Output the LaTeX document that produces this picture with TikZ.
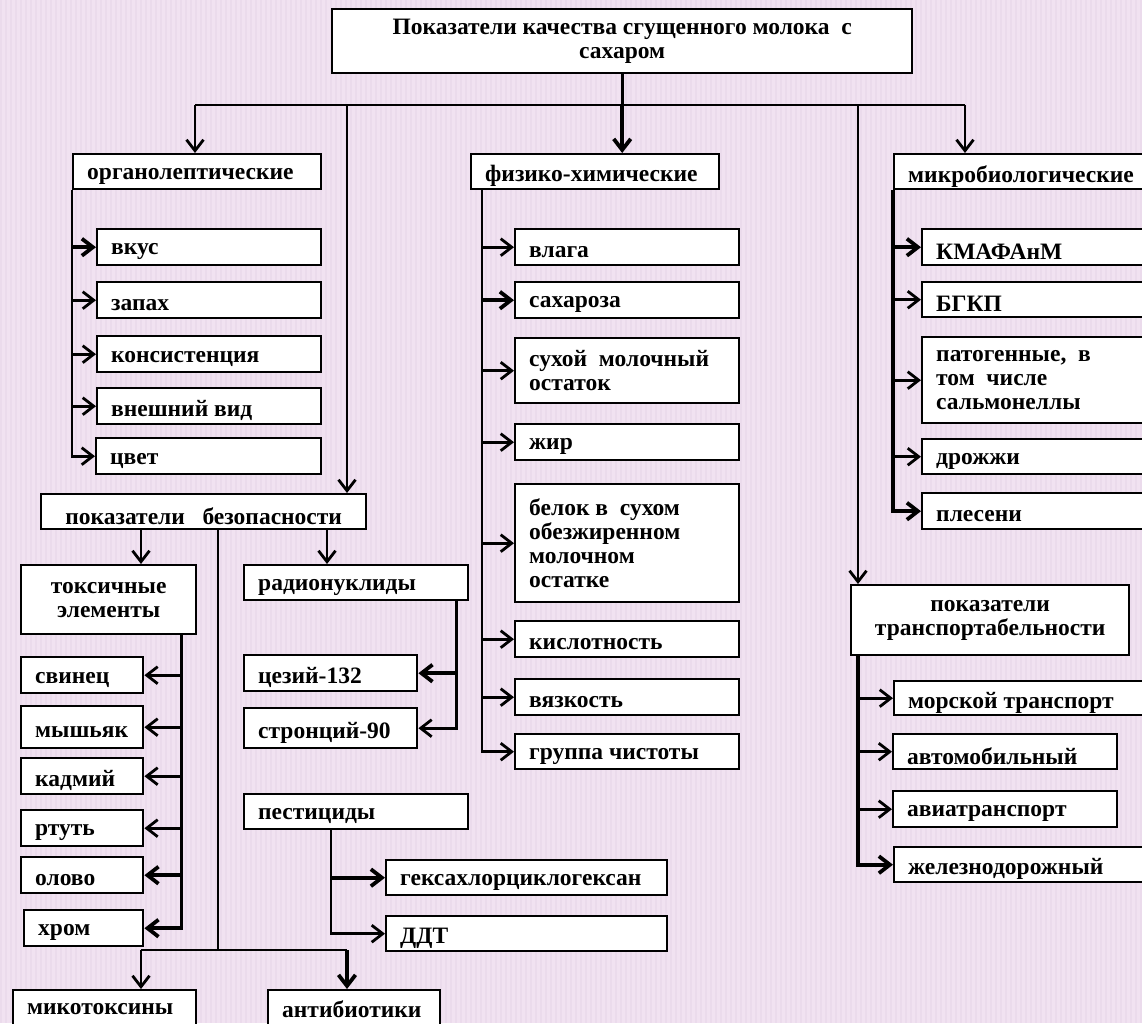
\documentclass[tikz,border=0pt]{standalone}
\usepackage{fontspec}
\setmainfont{Liberation Serif}
\usetikzlibrary{arrows.meta}
\definecolor{bgpink}{RGB}{241,226,241}
\definecolor{bgline}{RGB}{235,219,236}
\newcommand\cellfont{\fontsize{23.5}{24}\selectfont\bfseries}

\begin{document}
\begin{tikzpicture}[x=1pt,y=-1pt,
                    cellbox/.style 2 args={draw,line width=2.4pt,fill=white,anchor=north west,inner sep=0pt,
                        minimum width=#1pt,minimum height=#2pt,font=\cellfont},
                    cell/.style n args={3}{cellbox={#1}{#2},
                        node contents={\parbox[c]{\dimexpr#1pt-28pt\relax}{\vspace{9pt}\raggedright #3}}},
                    cellm/.style n args={3}{cellbox={#1}{#2},
                        node contents={\parbox[c]{\dimexpr#1pt-28pt\relax}{\raggedright #3}}},
                    cellc/.style n args={3}{cellbox={#1}{#2},
                        node contents={\parbox[c]{\dimexpr#1pt-28pt\relax}{\vspace{9pt}\centering #3}}},
                    cellcm/.style n args={3}{cellbox={#1}{#2},
                        node contents={\parbox[c]{\dimexpr#1pt-28pt\relax}{\centering #3}}},
                    link/.style={line width=2.8pt},
                    arr/.style={link,-{Straight Barb[length=11pt,width=17pt]}},
                    arrb/.style={arr,line width=3.8pt}]
                    \useasboundingbox (0,0) rectangle (1142,1023);
                    \fill[bgpink] (0,0) rectangle (1142,1023);
                    \foreach \x in {0,5,...,1140} \fill[bgline] (\x,0) rectangle ++(2,1023);
                    \clip (0,0) rectangle (1142,1023);

                    \node (title) at (331,8) [cellcm={580}{64}{Показатели качества сгущенного молока\ \ с\\сахаром}];

                    \node (org) at (72,153) [cell={248}{35}{органолептические}];
                    \node (vkus) at (96,228) [cell={224}{36}{вкус}];
                    \node (zapah) at (96,281) [cell={224}{36}{запах}];
                    \node (kons) at (96,335) [cell={224}{36}{консистенция}];
                    \node (vid) at (96,387) [cell={224}{36}{внешний вид}];
                    \node (cvet) at (95,437) [cell={225}{36}{цвет}];

                    \node (fiz) at (470,153) [cell={248}{35}{физико-химические}];
                    \node (vlaga) at (514,228) [cell={224}{36}{влага}];
                    \node (sahar) at (514,281) [cell={224}{36}{сахароза}];
                    \node (suhoi) at (514,337) [cellm={224}{65}{сухой\ \ молочный\\остаток}];
                    \node (zhir) at (514,423) [cell={224}{36}{жир}];
                    \node (belok) at (514,483) [cellm={224}{118}{белок в\ \ сухом\\обезжиренном\\молочном\\остатке}];
                    \node (kisl) at (514,620) [cell={224}{36}{кислотность}];
                    \node (vyaz) at (514,678) [cell={224}{36}{вязкость}];
                    \node (grup) at (514,733) [cell={224}{35}{группа чистоты}];

                    \node (micro) at (893,153) [cell={262}{35}{микробиологические}];
                    \node (kmaf) at (921,228) [cell={240}{36}{КМАФАнМ}];
                    \node (bgkp) at (921,281) [cell={240}{35}{БГКП}];
                    \node (patog) at (921,336) [cellm={240}{86}{патогенные,\ \ в\\том\ \ числе\\сальмонеллы}];
                    \node (drozh) at (921,438) [cell={240}{35}{дрожжи}];
                    \node (plesen) at (921,492) [cell={240}{36}{плесени}];

                    \node (bez) at (40,493) [cellc={325}{35}{показатели\ \ \ безопасности}];
                    \node (tox) at (20,564) [cellcm={175}{69}{токсичные\\элементы}];
                    \node (svinec) at (20,656) [cell={122}{36}{свинец}];
                    \node (mysh) at (20,705) [cell={122}{42}{мышьяк}];
                    \node (kadm) at (20,757) [cell={122}{36}{кадмий}];
                    \node (rtut) at (20,809) [cell={122}{36}{ртуть}];
                    \node (olovo) at (20,856) [cell={122}{36}{олово}];
                    \node (hrom) at (23,909) [cell={119}{36}{хром}];

                    \node (radio) at (243,564) [cell={224}{35}{радионуклиды}];
                    \node (cez) at (243,654) [cell={173}{36}{цезий-132}];
                    \node (stron) at (243,707) [cell={173}{40}{стронций-90}];
                    \node (pest) at (243,793) [cell={224}{35}{пестициды}];
                    \node (gexa) at (385,859) [cell={281}{35}{гексахлорциклогексан}];
                    \node (ddt) at (385,915) [cell={281}{35}{ДДТ}];
                    \node (miko) at (12,989) [cellm={183}{38}{микотоксины}];
                    \node (anti) at (267,989) [cellm={172}{38}{антибиотики}];

                    \node (transp) at (850,584) [cellcm={278}{70}{показатели\\транспортабельности}];
                    \node (mor) at (893,680) [cell={262}{34}{морской транспорт}];
                    \node (avto) at (892,733) [cell={224}{35}{автомобильный}];
                    \node (avia) at (892,790) [cell={224}{36}{авиатранспорт}];
                    \node (zhel) at (893,846) [cell={262}{35}{железнодорожный}];

                    \coordinate (busL) at (195,105);
                    \coordinate (busS) at (347,105);
                    \coordinate (busT) at (858,105);
                    \coordinate (busR) at (965,105);
                    \draw[link] (title.south) -- (title.south |- busL);
                    \draw[link] (busL) -- (busR);
                    \draw[arr] (busL) -- (busL |- org.north);
                    \draw[arr] (busS) -- (busS |- bez.north);
                    \draw[arrb] (title.south |- busL) -- (title.south |- fiz.north);
                    \draw[arr] (busT) -- (busT |- transp.north);
                    \draw[arr] (busR) -- (busR |- micro.north);

                    \draw[arr] (org.south west) |- (cvet.west);
                    \draw[arrb] (org.south west |- vkus.west) -- (vkus.west);
                    \draw[arr] (org.south west |- zapah.west) -- (zapah.west);
                    \draw[arr] (org.south west |- kons.west) -- (kons.west);
                    \draw[arr] (org.south west |- vid.west) -- (vid.west);

                    \coordinate (fizF) at ([xshift=12pt]fiz.south west);
                    \draw[arr] (fizF) |- (grup.west);
                    \draw[arr] (fizF |- vlaga.west) -- (vlaga.west);
                    \draw[arrb] (fizF |- sahar.west) -- (sahar.west);
                    \draw[arr] (fizF |- suhoi.west) -- (suhoi.west);
                    \draw[arr] (fizF |- zhir.west) -- (zhir.west);
                    \draw[arr] (fizF |- belok.west) -- (belok.west);
                    \draw[arr] (fizF |- kisl.west) -- (kisl.west);
                    \draw[arr] (fizF |- vyaz.west) -- (vyaz.west);

                    \draw[arrb] (micro.south west) |- (plesen.west);
                    \draw[arrb] (micro.south west |- kmaf.west) -- (kmaf.west);
                    \draw[arr] (micro.south west |- bgkp.west) -- (bgkp.west);
                    \draw[arr] (micro.south west |- patog.west) -- (patog.west);
                    \draw[arr] (micro.south west |- drozh.west) -- (drozh.west);

                    \coordinate (trF) at ([xshift=8pt]transp.south west);
                    \draw[arrb] (trF) |- (zhel.west);
                    \draw[arr] (trF |- mor.west) -- (mor.west);
                    \draw[arr] (trF |- avto.west) -- (avto.west);
                    \draw[arr] (trF |- avia.west) -- (avia.west);

                    \coordinate (bzL) at (141,528);
                    \coordinate (bzM) at (218,528);
                    \coordinate (bzR) at (327,528);
                    \coordinate (fork) at (218,950);
                    \coordinate (forkL) at (141,950);
                    \coordinate (forkR) at (347,950);
                    \draw[arr] (bzL) -- (bzL |- tox.north);
                    \draw[arr] (bzR) -- (bzR |- radio.north);
                    \draw[link] (bzM) -- (fork);
                    \draw[link] (forkL) -- (forkR);
                    \draw[arr] (forkL) -- (forkL |- miko.north);
                    \draw[arrb] (forkR) -- (forkR |- anti.north);

                    \coordinate (toxF) at ([xshift=-16pt]tox.south east);
                    \draw[arrb] (toxF) |- (hrom.east);
                    \draw[arr] (toxF |- svinec.east) -- (svinec.east);
                    \draw[arr] (toxF |- mysh.east) -- (mysh.east);
                    \draw[arr] (toxF |- kadm.east) -- (kadm.east);
                    \draw[arr] (toxF |- rtut.east) -- (rtut.east);
                    \draw[arrb] (toxF |- olovo.east) -- (olovo.east);

                    \coordinate (radF) at ([xshift=-13pt]radio.south east);
                    \draw[arr] (radF) |- (stron.east);
                    \draw[arrb] (radF |- cez.east) -- (cez.east);

                    \coordinate (pestF) at ([xshift=88pt]pest.south west);
                    \draw[arr] (pestF) |- (ddt.west);
                    \draw[arrb] (pestF |- gexa.west) -- (gexa.west);
                \end{tikzpicture}
\end{document}
